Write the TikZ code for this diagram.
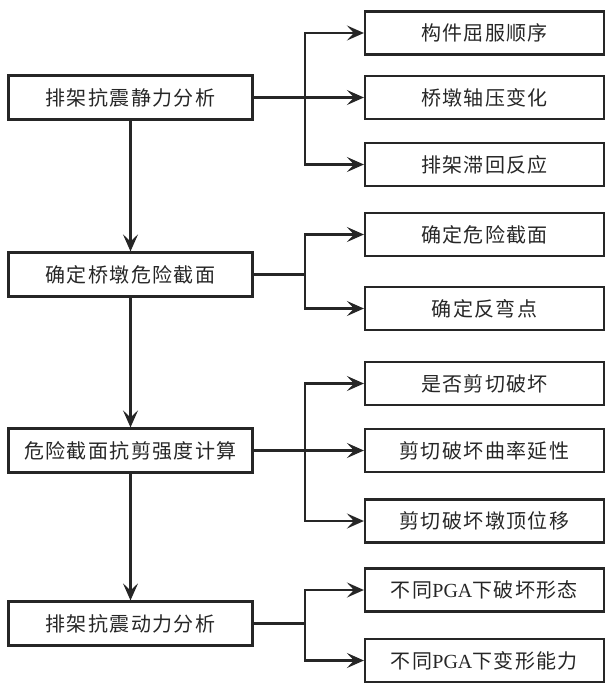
\documentclass[tikz,border=0pt]{standalone}
\usepackage{fontspec}
\setmainfont{Liberation Serif}
\newfontfamily\cjk[LetterSpace=7]{Noto Sans CJK SC}
\usetikzlibrary{arrows.meta}
\begin{document}
\begin{tikzpicture}[x=1pt,y=-1pt,
  box/.style={draw=black!85, line width=2.2pt, inner sep=0pt, text=black!85,
    font=\cjk\fontsize{20}{20}\selectfont},
  lbox/.style={box, minimum width=244pt, minimum height=44pt},
  rbox/.style={box, minimum width=239pt, minimum height=43pt},
  line/.style={draw=black!85, line width=2.2pt},
  arr/.style={line, -{Stealth[length=17pt,width=15pt,inset=7pt]}}]
\useasboundingbox (0,0) rectangle (608,683);
% left column
\node[lbox] (L1) at (130.5,97.5) {排架抗震静力分析};
\node[lbox] (L2) at (130.5,274.5) {确定桥墩危险截面};
\node[lbox] (L3) at (130.5,450.5) {危险截面抗剪强度计算};
\node[lbox] (L4) at (130.5,623.5) {排架抗震动力分析};
% right column
\node[rbox] (R1) at (484.5,33) {构件屈服顺序};
\node[rbox] (R2) at (484.5,97.5) {桥墩轴压变化};
\node[rbox] (R3) at (484.5,164.5) {排架滞回反应};
\node[rbox] (R4) at (484.5,234.5) {确定危险截面};
\node[rbox] (R5) at (484.5,308.5) {确定反弯点};
\node[rbox] (R6) at (484.5,383.5) {是否剪切破坏};
\node[rbox] (R7) at (484.5,450.5) {剪切破坏曲率延性};
\node[rbox] (R8) at (484.5,521) {剪切破坏墩顶位移};
\node[rbox] (R9) at (484.5,590) {不同{\rmfamily PGA}下破坏形态};
\node[rbox] (R10) at (484.5,660.5) {不同{\rmfamily PGA}下变形能力};
% trunk points
\coordinate (t1) at (305,97.5);
\coordinate (t2) at (305,274.5);
\coordinate (t3) at (305,450.5);
\coordinate (t4) at (305,623.5);
% vertical flow
\draw[arr] (L1) -- (L2);
\draw[arr] (L2) -- (L3);
\draw[arr] (L3) -- (L4);
% group 1
\draw[arr] (L1.east) -- (R2.west);
\draw[arr] (t1) |- (R1.west);
\draw[arr] (t1) |- (R3.west);
% group 2
\draw[line] (L2.east) -- (t2);
\draw[arr] (t2) |- (R4.west);
\draw[arr] (t2) |- (R5.west);
% group 3
\draw[arr] (L3.east) -- (R7.west);
\draw[arr] (t3) |- (R6.west);
\draw[arr] (t3) |- (R8.west);
% group 4
\draw[line] (L4.east) -- (t4);
\draw[arr] (t4) |- (R9.west);
\draw[arr] (t4) |- (R10.west);
\end{tikzpicture}
\end{document}
